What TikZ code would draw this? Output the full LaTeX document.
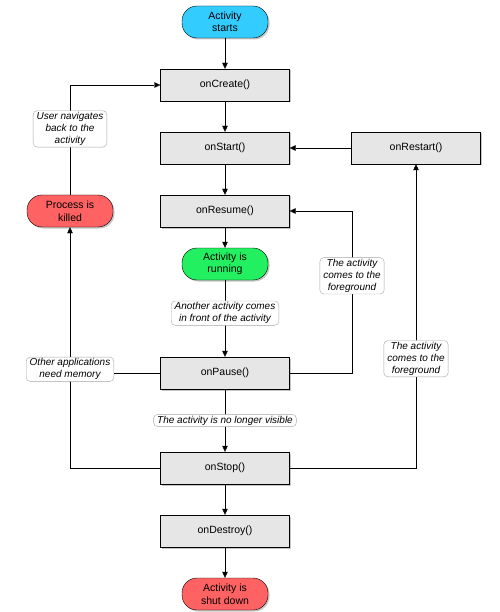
\documentclass[tikz,border=0pt]{standalone}
\usepackage{fontspec}
\setmainfont{Liberation Sans}
\usetikzlibrary{arrows.meta,shadows}
\definecolor{boxgray}{HTML}{E6E6E6}
\definecolor{startblue}{HTML}{33CCFF}
\definecolor{rungreen}{HTML}{22F060}
\definecolor{killred}{HTML}{FF6262}
\tikzset{
  method/.style={draw, fill=boxgray, minimum width=129pt, minimum height=32pt,
    drop shadow={shadow xshift=1.5pt, shadow yshift=-1.5pt, opacity=0.45}},
  state/.style={draw, rounded corners=15pt, minimum width=86pt, minimum height=32pt,
    align=center, drop shadow={shadow xshift=1.5pt, shadow yshift=-1.5pt, opacity=0.45}},
  note/.style={draw=gray!70, fill=white, rounded corners=4pt, align=center,
    font=\itshape, inner xsep=3.5pt, inner ysep=1.5pt},
  arr/.style={-{Triangle[length=6pt,width=5.5pt]}}
}
\begin{document}
\begin{tikzpicture}[x=1pt,y=-1pt,font=\fontsize{10.5}{12.5}\selectfont]
  \useasboundingbox (0,0) rectangle (499,612);
  \node[state, fill=startblue] (start) at (225,22) {Activity\\starts};
  \node[method] (create) at (225,85) {onCreate()};
  \node[method] (onstart) at (225,148) {onStart()};
  \node[method] (restart) at (416,148) {onRestart()};
  \node[method] (resume) at (225,211) {onResume()};
  \node[state, fill=rungreen] (running) at (225,264) {Activity is\\running};
  \node[method] (pause) at (225,373) {onPause()};
  \node[method] (stop) at (225,468) {onStop()};
  \node[method] (destroy) at (225,531) {onDestroy()};
  \node[state, fill=killred] (shutdown) at (225,594) {Activity is\\shut down};
  \node[state, fill=killred] (killed) at (70,211) {Process is\\killed};
  \coordinate (back) at (352,211);

  \foreach \a/\b in {start/create, create/onstart, onstart/resume, resume/running, stop/destroy, destroy/shutdown}
    \draw[arr] (\a) -- (\b);
  \draw[arr] (running) -- node[note, pos=0.43] {Another activity comes\\in front of the activity} (pause);
  \draw[arr] (pause) -- node[note, pos=0.5] {The activity is no longer visible} (stop);
  \draw[arr] (restart) -- (onstart);
  \draw[arr] (killed.north) |- node[note, pos=0.3] {User navigates\\back to the\\activity} (create.west);
  \draw[arr] (stop.west) -| node[note, pos=0.705] (memory) {Other applications\\need memory} (killed.south);
  \draw (pause.west) -- (pause.west -| memory.east);
  \draw[arr] (pause.east) -| node[note, pos=0.8] {The activity\\comes to the\\foreground} (back) -- (resume.east);
  \draw[arr] (stop.east) -| node[note, pos=0.68] {The activity\\comes to the\\foreground} (restart.south);
\end{tikzpicture}
\end{document}
